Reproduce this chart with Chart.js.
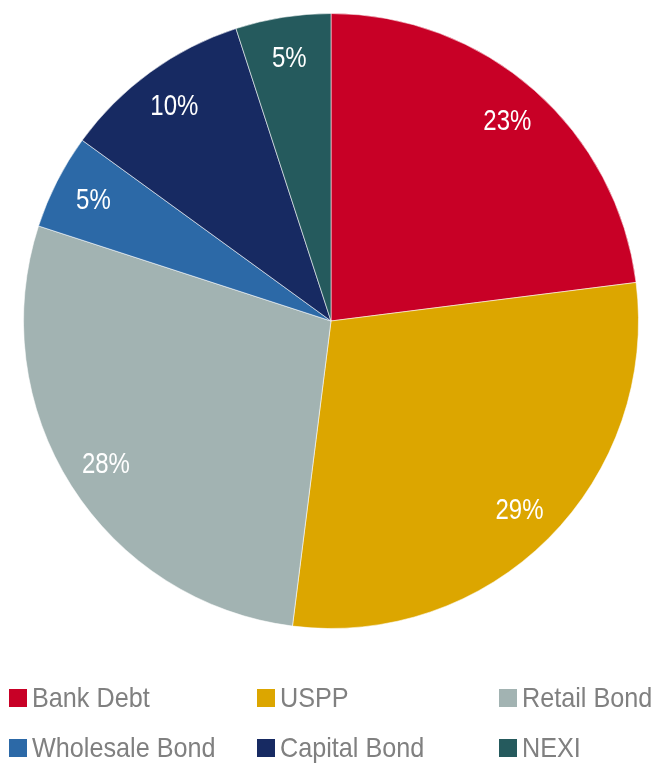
<!DOCTYPE html>
<html>
<head>
<meta charset="utf-8">
<script src="https://cdn.jsdelivr.net/npm/chart.js@4/dist/chart.umd.min.js"></script>
<style>
  html, body { margin: 0; padding: 0; background: #ffffff; }
  #wrap { width: 655px; height: 763px; }
</style>
</head>
<body>
<div id="wrap"><canvas id="fundingChart" width="655" height="763"></canvas></div>
<script>
const sources = ['Bank Debt', 'USPP', 'Retail Bond', 'Wholesale Bond', 'Capital Bond', 'NEXI'];
const shares = [23, 29, 28, 5, 10, 5];
const colours = ['#C80026', '#DCA600', '#A2B3B2', '#2C69A7', '#172A62', '#255A5D'];

// percentage text inside each slice
const sliceLabels = {
  id: 'sliceLabels',
  afterDatasetsDraw(chart) {
    const ctx = chart.ctx;
    const meta = chart.getDatasetMeta(0);
    ctx.save();
    ctx.fillStyle = '#ffffff';
    ctx.font = '30px "Liberation Sans", Arial, sans-serif';
    ctx.textAlign = 'center';
    ctx.textBaseline = 'middle';
    meta.data.forEach((arc, i) => {
      const p = arc.getProps(['x', 'y', 'startAngle', 'endAngle', 'outerRadius'], true);
      const mid = (p.startAngle + p.endAngle) / 2;
      const r = p.outerRadius * 0.867;
      const x = p.x + Math.cos(mid) * r;
      const y = p.y + Math.sin(mid) * r;
      ctx.save();
      ctx.translate(x, y + 1);
      ctx.scale(0.8, 1);
      ctx.fillText(shares[i] + '%', 0, 0);
      ctx.restore();
    });
    ctx.restore();
  }
};

// three-column legend under the pie
const gridLegend = {
  id: 'gridLegend',
  afterDraw(chart) {
    const ctx = chart.ctx;
    const cols = [9, 257, 499];
    const rows = [698, 748];
    ctx.save();
    ctx.font = '28px "Liberation Sans", Arial, sans-serif';
    ctx.textBaseline = 'middle';
    ctx.textAlign = 'left';
    sources.forEach((name, i) => {
      const x = cols[i % 3];
      const y = rows[Math.floor(i / 3)];
      ctx.fillStyle = colours[i];
      ctx.fillRect(x, y - 9, 18, 18);
      ctx.fillStyle = '#808080';
      ctx.save();
      ctx.translate(x + 23, y + 1);
      ctx.scale(0.9, 1);
      ctx.fillText(name, 0, 0);
      ctx.restore();
    });
    ctx.restore();
  }
};

new Chart(document.getElementById('fundingChart'), {
  type: 'pie',
  data: {
    labels: sources,
    datasets: [{
      data: shares,
      backgroundColor: colours,
      borderColor: 'rgba(255,255,255,0.55)',
      borderWidth: 1
    }]
  },
  options: {
    responsive: false,
    animation: false,
    layout: { padding: { left: 23, right: 16, top: 13, bottom: 134 } },
    plugins: {
      legend: { display: false },
      tooltip: { enabled: false }
    }
  },
  plugins: [sliceLabels, gridLegend]
});
</script>
</body>
</html>
